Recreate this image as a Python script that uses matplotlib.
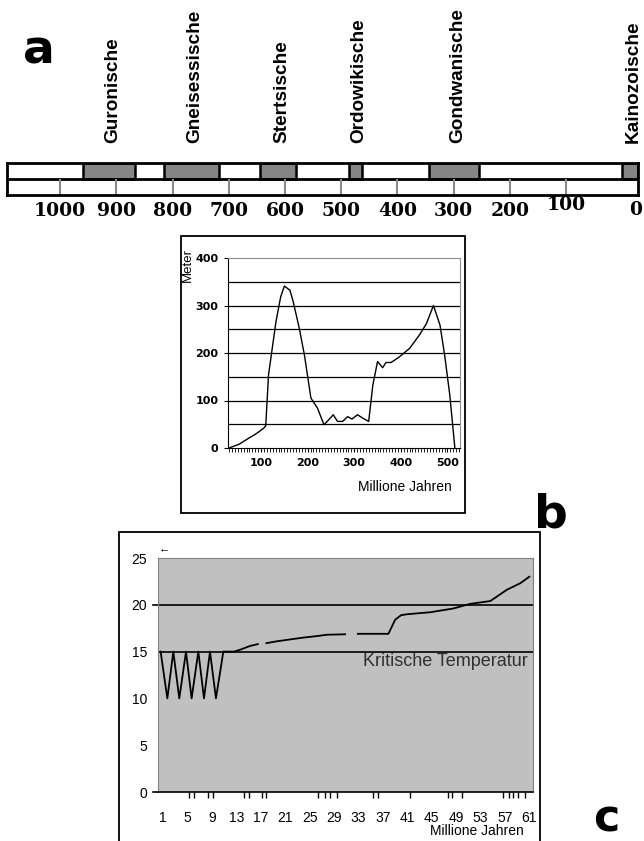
import numpy as np
import matplotlib.pyplot as plt
from matplotlib.patches import Rectangle
from matplotlib.ticker import MultipleLocator, FixedLocator

plt.rcParams['font.family'] = ['Liberation Sans', 'DejaVu Sans']

W, H = 644, 841

# a: glaciation periods (million years ago)
glacial_names = ['Guronische', 'Gneisessische', 'Stertsische',
                 'Ordowikische', 'Gondwanische', 'Kainozoische']
glacial_start = [959, 815, 644, 486, 344, 0]
glacial_end = [867, 717, 580, 463, 255, -28]
scale_ticks = [1000, 900, 800, 700, 600, 500, 400, 300, 200, 100]
scale_left, scale_right = 1094, -28

# b: sea level curve
sea_x = [31, 53, 74, 88, 106, 110, 116, 132, 142, 150, 162, 169, 182, 193,
         207, 221, 235, 242, 255, 264, 275, 286, 295, 307, 318, 331, 340,
         350, 361, 368, 379, 397, 419, 440, 455, 470, 484, 494, 505, 516]
sea_y = [0, 8, 21, 29, 42, 47, 154, 266, 318, 341, 332, 308, 252, 196,
         105, 84, 49, 56, 70, 56, 56, 66, 61, 70, 63, 56, 133,
         182, 169, 180, 180, 192, 210, 238, 262, 300, 259, 196, 112, 0]

# c: temperature curve (nan = gap in the line)
temp_x = [0.56, 1.66, 2.64, 3.62, 4.72, 5.64, 6.74, 7.67, 8.65, 9.63, 10.84,
          12.6, 13.6, 15.2, 16.5, np.nan, 17.9, 19.6, 21.8, 24.0, 26.1, 27.8,
          30.8, np.nan, 32.9, 37.9, 39.0, 40.0, 41.1, 44.7, 48.5, 51.3, 54.6,
          57.3, 59.5, 61.0]
temp_y = [15, 10, 15, 10, 15, 10, 15, 10, 15, 10, 15,
          15, 15.2, 15.6, 15.8, np.nan, 15.9, 16.1, 16.3, 16.5, 16.65, 16.8,
          16.85, np.nan, 16.9, 16.9, 18.4, 18.9, 19.0, 19.2, 19.6, 20.1, 20.4,
          21.6, 22.3, 23.0]
temp_levels = [15, 20]
c_ticks = list(range(1, 62, 4))
c_minor = [5.2, 6.0, 8.4, 9.2, 14.3, 15.1, 17.1, 17.9, 26.4, 27.5, 28.4,
           29.4, 35.4, 36.2, 41.4, 47.7, 48.3, 49.9, 56.7, 57.6, 58.4, 59.2,
           60.3]


def box(l, t, r, b):
    return [l / W, 1 - b / H, (r - l) / W, (b - t) / H]


def ftext(x, y, s, **kw):
    return fig.text(x / W, 1 - y / H, s, **kw)


def frame(l, t, r, b, lw):
    fig.add_artist(Rectangle((l / W, 1 - b / H), (r - l) / W, (b - t) / H,
                             transform=fig.transFigure, fill=False,
                             ec='k', lw=lw))


fig = plt.figure(figsize=(W / 100, H / 100), dpi=100)

# ---------- a
ax = fig.add_axes(box(7.3, 163.3, 638, 195))
ax.set_xlim(scale_left, scale_right)
ax.set_ylim(0, 2)
ax.set_xticks([])
ax.set_yticks([])
for s in ax.spines.values():
    s.set_linewidth(2)
ax.axhline(1, color='k', lw=2)
ax.vlines(scale_ticks, 0, 1, color='#8a8a8a', lw=1.5)
ax.broken_barh([(e, s - e) for s, e in zip(glacial_start, glacial_end)],
               (1, 1), facecolor='#858585', edgecolor='k', lw=1.8)
for name, s, e in zip(glacial_names, glacial_start, glacial_end):
    ax.annotate(name, xy=((s + e) / 2, 1.64), xycoords=ax.get_xaxis_transform(),
                xytext=(2.5, 0), textcoords='offset points', rotation=90,
                ha='center', va='bottom', fontsize=13.7, fontweight='bold')
for v in scale_ticks:
    ax.text(v, -0.31 if v == 100 else -0.5, str(v),
            transform=ax.get_xaxis_transform(), ha='center', va='center',
            family='DejaVu Serif', fontweight='bold', fontsize=13.5)
ax.text(0.997, -0.47, '0', transform=ax.transAxes, ha='center', va='center',
        family='DejaVu Serif', fontweight='bold', fontsize=13.5)
ftext(23, 63, 'a', fontsize=34, fontweight='heavy', family='DejaVu Sans',
      va='baseline', ha='left')

# ---------- b
frame(181, 236, 465, 513, 1.3)
axb = fig.add_axes(box(228, 258, 460, 448))
for v in range(50, 400, 50):
    axb.axhline(v, color='k', lw=0.9, zorder=1)
axb.plot(sea_x, sea_y, color='k', lw=1, zorder=2)
axb.set_xlim(29, 527)
axb.set_ylim(0, 400)
axb.set_yticks(range(0, 401, 100))
axb.set_xticks(range(100, 501, 100))
axb.xaxis.set_minor_locator(MultipleLocator(6.25))
axb.tick_params(axis='both', which='major', length=3, labelsize=8, pad=4)
axb.tick_params(axis='x', which='minor', length=3)
for lab in axb.get_xticklabels() + axb.get_yticklabels():
    lab.set_fontweight('bold')
    lab.set_family('DejaVu Sans')
for side in ['top', 'right']:
    axb.spines[side].set_color('#909090')
ftext(188, 265, 'Meter', rotation=90, ha='center', va='center', fontsize=9.5)
ftext(405, 487, 'Millione Jahren', ha='center', va='center', fontsize=10)
ftext(534, 527, 'b', fontsize=34, fontweight='heavy', family='DejaVu Sans',
      va='baseline', ha='left')

# ---------- c
frame(119, 532, 540, 900, 1.3)
axc = fig.add_axes(box(158, 558, 533, 792), facecolor='#c0c0c0')
for v in temp_levels:
    axc.axhline(v, color='k', lw=1.2, zorder=1)
axc.plot([-0.0133, 0], [20, 20], color='k', lw=1.2,
         transform=axc.get_yaxis_transform(), clip_on=False)
axc.plot([-0.0133, 0], [0, 0], color='k', lw=1.2,
         transform=axc.get_yaxis_transform(), clip_on=False)
axc.plot(temp_x, temp_y, color='k', lw=1.3, zorder=2)
axc.set_xlim(0.13, 61.6)
axc.set_ylim(0, 25)
axc.set_xticks(c_ticks)
axc.xaxis.set_minor_locator(FixedLocator(c_minor))
axc.set_yticks(range(0, 26, 5))
axc.tick_params(axis='x', which='major', length=0, pad=14, labelsize=10)
axc.tick_params(axis='x', which='minor', length=4.5, width=1)
axc.tick_params(axis='y', length=0, pad=8, labelsize=10)
for side in ['left', 'top', 'right']:
    axc.spines[side].set_color('#808080')
axc.spines['bottom'].set_linewidth(1.2)
ftext(528, 661, 'Kritische Temperatur', ha='right', va='center',
      fontsize=13, color='#303030')
ftext(477, 831, 'Millione Jahren', ha='center', va='center', fontsize=10)
ftext(164, 548, '\u2190', ha='center', va='center', fontsize=8)
ftext(593, 840, 'c', fontsize=32, fontweight='heavy', family='DejaVu Sans',
      va='bottom', ha='left')

fig.savefig('out.png', dpi=100)
